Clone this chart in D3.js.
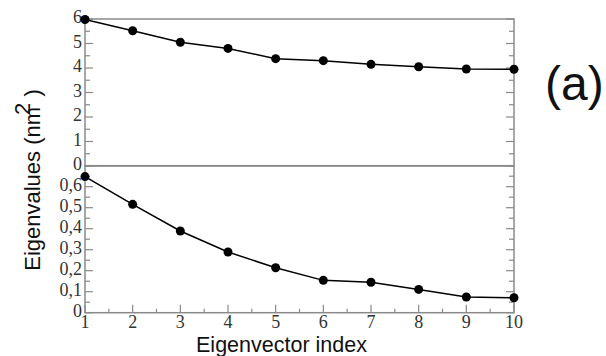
<!DOCTYPE html>
<html>
<head>
<meta charset="utf-8">
<script src="https://cdn.jsdelivr.net/npm/d3@7"></script>
<style>
  html, body { margin: 0; padding: 0; background: #fff; }
  svg { display: block; }
</style>
</head>
<body>
<svg id="chart" width="606" height="356"></svg>
<script>
// Eigenvector indices shared by both panels
const indices = [1, 2, 3, 4, 5, 6, 7, 8, 9, 10];
// Upper panel eigenvalues (nm^2)
const upperValues = [5.98, 5.52, 5.05, 4.80, 4.38, 4.30, 4.15, 4.05, 3.96, 3.95];
// Lower panel eigenvalues (nm^2)
const lowerValues = [0.648, 0.516, 0.389, 0.289, 0.214, 0.154, 0.145, 0.111, 0.075, 0.071];
// Tick values
const xTicks = [1, 2, 3, 4, 5, 6, 7, 8, 9, 10];
const upperTicks = [0, 1, 2, 3, 4, 5, 6];
const lowerTicks = [0, 0.1, 0.2, 0.3, 0.4, 0.5, 0.6];

const svg = d3.select("#chart");
const frameColor = "#8a8a8a";
const labelColor = "#333";
const serif = "'Liberation Serif', 'DejaVu Serif', serif";
const sans = "'Liberation Sans', Arial, sans-serif";

const left = 85, right = 514;
const x = d3.scaleLinear().domain([1, 10]).range([left, right]);
const yUp = d3.scaleLinear().domain([0, 6]).range([166, 19]);
const yLo = d3.scaleLinear().domain([0, 0.7]).range([312.7, 165.7]);

const fmtComma = v => v === 0 ? "0" : d3.format(".1f")(v).replace(".", ",");

function panel(y, values, ticks, minorStep, fmt, showX) {
  const g = svg.append("g");
  const [y0, y1] = y.domain();
  const minor = d3.range(y0, y1 + 1e-9, minorStep);

  // inner tick marks on left and right sides
  const tickG = g.append("g").attr("stroke", frameColor).attr("stroke-width", 1.2);
  minor.forEach(v => {
    const isMajor = ticks.some(t => Math.abs(t - v) < 1e-9);
    const len = isMajor ? 8 : 5;
    tickG.append("line").attr("x1", left).attr("x2", left + len)
      .attr("y1", y(v)).attr("y2", y(v));
    tickG.append("line").attr("x1", right).attr("x2", right - len)
      .attr("y1", y(v)).attr("y2", y(v));
  });

  if (showX) {
    const xm = d3.range(1, 10.0001, 0.5);
    xm.forEach(v => {
      const isMajor = Number.isInteger(v);
      const len = isMajor ? 8 : 4;
      tickG.append("line").attr("x1", x(v)).attr("x2", x(v))
        .attr("y1", y(y0)).attr("y2", y(y0) - len);
    });
    g.append("g").selectAll("text").data(xTicks).join("text")
      .attr("x", d => x(d)).attr("y", y(y0) + 15.5)
      .attr("text-anchor", "middle")
      .attr("font-family", serif).attr("font-size", 18).attr("fill", labelColor)
      .text(d => d);
  }

  // frame
  g.append("rect")
    .attr("x", left).attr("y", y(y1))
    .attr("width", right - left).attr("height", y(y0) - y(y1))
    .attr("fill", "none").attr("stroke", frameColor).attr("stroke-width", 1.5);

  // y tick labels
  g.append("g").selectAll("text").data(ticks).join("text")
    .attr("x", left - 3).attr("y", d => y(d) + 4)
    .attr("text-anchor", "end")
    .attr("font-family", serif).attr("font-size", 18).attr("fill", labelColor)
    .text(fmt);

  // series line and markers
  const pts = indices.map((d, i) => [d, values[i]]);
  g.append("path").datum(pts)
    .attr("fill", "none").attr("stroke", "#000").attr("stroke-width", 1.5)
    .attr("d", d3.line().x(d => x(d[0])).y(d => y(d[1])));
  g.append("g").selectAll("circle").data(pts).join("circle")
    .attr("cx", d => x(d[0])).attr("cy", d => y(d[1])).attr("r", 4.5)
    .attr("fill", "#000");
}

panel(yUp, upperValues, upperTicks, 0.5, d => d, false);
panel(yLo, lowerValues, lowerTicks, 0.05, fmtComma, true);

// axis titles
svg.append("text")
  .attr("x", (left + right) / 2 - 18).attr("y", 352)
  .attr("text-anchor", "middle")
  .attr("font-family", sans).attr("font-size", 21.5).attr("fill", "#111")
  .text("Eigenvector index");

const yt = svg.append("text")
  .attr("transform", "translate(40,180) rotate(-90)")
  .attr("text-anchor", "middle")
  .attr("font-family", sans).attr("font-size", 22).attr("fill", "#111");
yt.append("tspan").text("Eigenvalues (nm");
yt.append("tspan").attr("dx", -8).attr("dy", -10).text("2");
yt.append("tspan").attr("dy", 10).text(" )");

svg.append("text")
  .attr("x", 545).attr("y", 100)
  .attr("font-family", sans).attr("font-size", 48).attr("fill", "#111")
  .text("(a)");
</script>
</body>
</html>
